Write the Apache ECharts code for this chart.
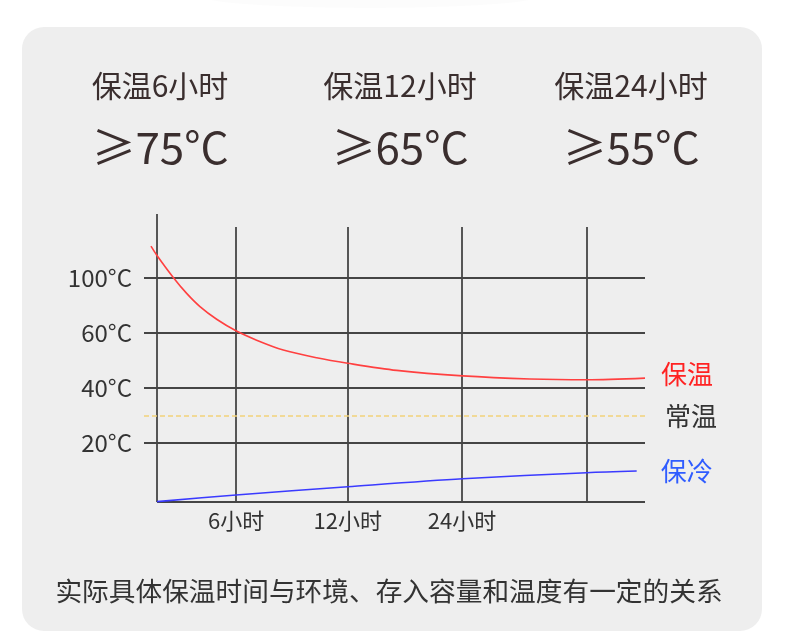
<!DOCTYPE html>
<html><head><meta charset="utf-8">
<script src="https://cdn.jsdelivr.net/npm/echarts@6/dist/echarts.min.js"></script>
<style>html,body{margin:0;padding:0;background:#fff}#c{width:800px;height:642px}</style>
</head><body><div id="c"></div>
<script>
// ---- data ----
const headerTitles = ['保温6小时', '保温12小时', '保温24小时'];
const headerValues = ['≥75°C', '≥65°C', '≥55°C'];
const footnote = '实际具体保温时间与环境、存入容量和温度有一定的关系';
// y axis: evenly spaced levels, labelled with temperatures
const yTickLevels = [1, 2, 3, 4];
const yTickLabels = ['20°C', '40°C', '60°C', '100°C'];
const ambientLevel = [1.49];           // 常温 reference line
// x axis: relative position (0 = start, 100 = end) of the time gridlines
const xTickPos = [16.2, 39.1, 62.5, 88.1];
const xTickLabels = ['6小时', '12小时', '24小时', ''];
// 保温 curve
const hotX = [-1.23, -0.07, 3.34, 6.08, 8.81, 12.23, 16.19, 20.42, 25.88, 32.72, 39.08, 49.12, 62.64, 76.43, 88.05, 100];
const hotY = [4.58, 4.42, 4.01, 3.72, 3.48, 3.25, 3.04, 2.87, 2.69, 2.55, 2.45, 2.32, 2.22, 2.165, 2.15, 2.18];
// 保冷 curve
const coldX = [0, 16.19, 39.08, 62.64, 88.05, 98.3];
const coldY = [-0.067, 0.055, 0.205, 0.35, 0.46, 0.49];
const seriesNames = ['保温', '常温', '保冷'];
// axis extents
const xMin = -2.66, xMax = 100, yMin = -0.073, yMax = 5.164, vTop = 4.927;

// ---- chart ----
const FONT = 'Noto Sans CJK SC';
const GRIDC = '#454545';
const chart = echarts.init(document.getElementById('c'), null, {renderer: 'canvas'});

const gridLines = [];
yTickLevels.forEach((lv, i) => {
  gridLines.push([
    {coord: [xMin, lv], label: {show: true, position: 'start', formatter: yTickLabels[i], distance: 12, fontSize: 24, color: '#333', fontFamily: FONT}},
    {coord: [xMax, lv]}
  ]);
});
xTickPos.forEach((p, i) => {
  gridLines.push([
    {coord: [p, yMin], label: {show: !!xTickLabels[i], position: 'start', formatter: xTickLabels[i] || ' ', distance: 8, fontSize: 22, color: '#333', fontFamily: FONT}},
    {coord: [p, vTop]}
  ]);
});
// axis lines
gridLines.push([{coord: [0, yMin], label: {show: false}}, {coord: [0, yMax]}]);
gridLines.push([{coord: [0, yMin], label: {show: false}}, {coord: [xMax, yMin]}]);

const graphics = [
  {type: 'ellipse', z: -11, silent: true, shape: {cx: 370, cy: -4, rx: 170, ry: 12},
    style: {fill: 'rgba(0,0,0,0.012)', shadowBlur: 18, shadowColor: 'rgba(0,0,0,0.04)'}},
  {type: 'rect', z: -10, silent: true, shape: {x: 22, y: 27, width: 740, height: 604, r: 22}, style: {fill: '#eeeeee'}}
];
const headerX = [160, 400, 631];
headerTitles.forEach((t, i) => {
  graphics.push({type: 'text', x: headerX[i], y: 86, style: {text: t, fontSize: 30, fontFamily: FONT, fill: '#3a2e2e', align: 'center', verticalAlign: 'middle'}});
  graphics.push({type: 'text', x: headerX[i], y: 147, style: {text: headerValues[i], fontSize: 44, fontFamily: FONT, fill: '#3a2e2e', align: 'center', verticalAlign: 'middle'}});
});
graphics.push({type: 'text', x: 389, y: 591, style: {text: footnote, fontSize: 26.7, fontFamily: FONT, fill: '#333', align: 'center', verticalAlign: 'middle'}});

const option = {
  animation: false,
  backgroundColor: '#ffffff',
  textStyle: {fontFamily: FONT},
  grid: {left: 144, right: 155, top: 214, bottom: 140, containLabel: false},
  xAxis: {type: 'value', min: xMin, max: xMax, show: false},
  yAxis: {type: 'value', min: yMin, max: yMax, show: false},
  graphic: graphics,
  series: [
    {
      name: 'gridHelper', type: 'line', data: [], silent: true, z: 1,
      markLine: {silent: true, animation: false, symbol: ['none', 'none'],
        lineStyle: {color: GRIDC, width: 1.8, type: 'solid'},
        emphasis: {disabled: true},
        data: gridLines}
    },
    {
      name: seriesNames[1], type: 'line', data: [], silent: true, z: 1,
      markLine: {silent: true, animation: false, symbol: ['none', 'none'],
        lineStyle: {color: '#f2d27a', width: 1.5, type: [5, 3]},
        emphasis: {disabled: true},
        label: {show: true, position: 'end', formatter: seriesNames[1], distance: 20, fontSize: 26, color: '#333', fontFamily: FONT},
        data: ambientLevel.map(v => [{coord: [xMin, v]}, {coord: [xMax, v]}])}
    },
    {
      name: seriesNames[0], type: 'line', z: 10, smooth: 0.3, showSymbol: false, silent: true,
      data: hotX.map((x, i) => [x, hotY[i]]),
      lineStyle: {color: '#ff4040', width: 1.6},
      endLabel: {show: true, formatter: '{a}', distance: 16, fontSize: 26, color: '#ff2222', fontFamily: FONT, offset: [0, -4]}
    },
    {
      name: seriesNames[2], type: 'line', z: 10, smooth: 0.3, showSymbol: false, silent: true,
      data: coldX.map((x, i) => [x, coldY[i]]),
      lineStyle: {color: '#3a3aff', width: 1.6},
      endLabel: {show: true, formatter: '{a}', distance: 24, fontSize: 26, color: '#2f5cff', fontFamily: FONT}
    }
  ]
};
chart.setOption(option);
</script>
</body></html>
